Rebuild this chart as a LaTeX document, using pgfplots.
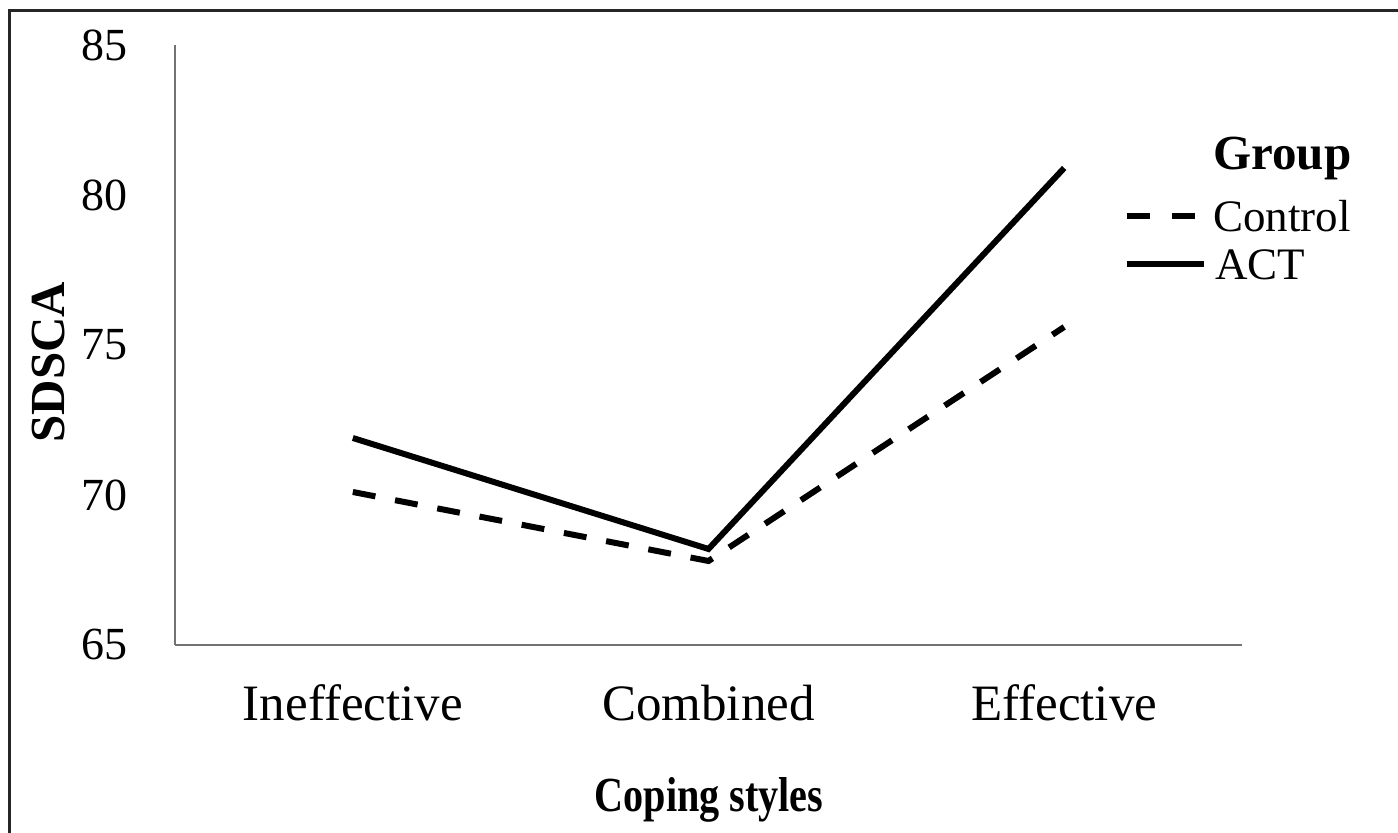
\documentclass[border=0pt]{standalone}
\usepackage{pgfplots}
\pgfplotsset{compat=1.18}
\usepackage{graphicx}
\usepackage{fontspec}
\setmainfont{Liberation Serif}
\newcommand{\fs}{\fontsize{24.5}{29}\selectfont}
\newcommand{\fx}{\fontsize{25.5}{30}\selectfont}
\newcommand{\fy}{\fontsize{23}{28}\selectfont}
\newcommand{\fl}{\fontsize{22.5}{27}\selectfont}
\begin{document}
\begin{tikzpicture}
\useasboundingbox (0,0) rectangle (699pt,416.5pt);
\fill[white] (0,0) rectangle (699pt,416.5pt);
\draw[line width=1.5pt, black!85] (4.5pt,-2pt) -- (4.5pt,411pt) -- (702pt,411pt);
\begin{axis}[
  at={(87.5pt,94pt)}, anchor=south west,
  scale only axis, width=533.5pt, height=300pt,
  xmin=-0.5, xmax=2.5, ymin=65, ymax=85,
  axis x line*=bottom, axis y line*=left,
  axis line style={black!55, line width=1pt},
  major tick length=0pt,
  xtick={0,1,2}, xticklabels={Ineffective,Combined,Effective},
  ytick={65,70,75,80,85},
  /pgf/number format/assume math mode=true,
  yticklabel style={font=\fy, anchor=east, inner sep=0pt, xshift=-23.5pt},
  xticklabel style={font=\fx, anchor=base, inner sep=0pt, yshift=-38pt},
  clip=false,
]
\addplot[black, line width=3pt, dash pattern=on 11.5pt off 10pt] coordinates {(0,70.1) (1,67.8) (2,75.6)};
\addplot[black, line width=3pt] coordinates {(0,71.9) (1,68.2) (2,80.9)};
\end{axis}
% axis titles
\node[font=\fs\bfseries, rotate=90, inner sep=0pt] at (24.25pt,235.5pt) {SDSCA};
\node[font=\fs\bfseries, anchor=base, inner sep=0pt] at (354.5pt,10.5pt) {\scalebox{0.82}[1]{Coping styles}};
% legend
\node[font=\fs\bfseries, anchor=base west, inner sep=0pt] at (606.5pt,331.5pt) {Group};
\draw[black, line width=3pt, dash pattern=on 11.5pt off 11pt] (563.5pt,308.5pt) -- (597.5pt,308.5pt);
\node[font=\fl, anchor=base west, inner sep=0pt] at (606.5pt,300.5pt) {Control};
\draw[black, line width=3pt] (563.5pt,284.5pt) -- (602pt,284.5pt);
\node[font=\fl, anchor=base west, inner sep=0pt] at (607.5pt,276.5pt) {ACT};
\end{tikzpicture}
\end{document}
